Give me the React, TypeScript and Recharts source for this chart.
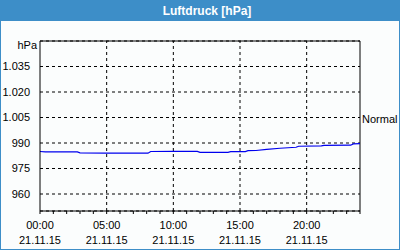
import { LineChart, Line, XAxis, YAxis, CartesianGrid, ReferenceLine } from 'recharts';

// hours since 00:00 on 21.11.15
const hours = [0, 0.4, 2.8, 3.0, 5, 7, 8.1, 8.3, 10, 11.8, 12.0, 14.1, 14.3, 15.4, 15.6, 16.2, 17, 18, 19.2, 19.4, 21.1, 21.3, 23.3, 23.5, 24];
const pressure = [985.0, 984.8, 984.8, 984.2, 984.1, 984.1, 984.0, 985.0, 985.1, 985.1, 984.5, 984.5, 984.9, 984.9, 985.5, 985.6, 986.2, 986.9, 987.5, 988.1, 988.3, 988.6, 988.7, 989.5, 989.6];

const yTicks = [960, 975, 990, 1005, 1020, 1035];
const majorHours = [5, 10, 15, 20];
const hourTicks = Array.from({ length: 25 }, (_, i) => i);
const dateLabel = '21.11.15';
const normalValue = 1005;

const data = hours.map((h, i) => ({ h, p: pressure[i] }));

const blue = '#3d8ec8';
const font = '"Liberation Sans", Arial, sans-serif';

const fmtY = (v: number) => {
  if (v >= 1000) {
    const s = String(v);
    return s.slice(0, s.length - 3) + '.' + s.slice(-3);
  }
  return String(v);
};

const XTick = (props: any) => {
  const { x, y, payload } = props;
  const h = payload.value as number;
  if (h % 5 !== 0) return null;
  const hh = String(h).padStart(2, '0') + ':00';
  return (
    <g>
      <text x={x} y={y + 13} textAnchor="middle" fontSize={11} fontFamily={font} fill="#000">{hh}</text>
      <text x={x} y={y + 28} textAnchor="middle" fontSize={11} fontFamily={font} fill="#000">{dateLabel}</text>
    </g>
  );
};

export default function App() {
  return (
    <div
      style={{
        position: 'absolute',
        left: 0,
        top: 0,
        width: 400,
        height: 250,
        boxSizing: 'border-box',
        border: `1px solid ${blue}`,
        background: '#fbfdfd',
        fontFamily: font,
        overflow: 'hidden',
      }}
    >
      <div
        style={{
          position: 'absolute',
          left: 0,
          top: 0,
          width: 398,
          height: 20,
          background: blue,
          color: '#fff',
          fontWeight: 'bold',
          fontSize: 12,
          lineHeight: '20px',
          textAlign: 'center',
          paddingLeft: 14,
          boxSizing: 'border-box',
        }}
      >
        Luftdruck [hPa]
      </div>
      <div style={{ position: 'absolute', left: 0, top: 38, width: 36, textAlign: 'right', fontSize: 11, color: '#000' }}>
        hPa
      </div>
      <div style={{ position: 'absolute', left: -1, top: -1 }}>
        <LineChart width={400} height={250} data={data} margin={{ top: 41, right: 40, bottom: 0, left: 0 }}>
          <CartesianGrid vertical={false} stroke="#000" strokeDasharray="3 3" />
          <XAxis
            dataKey="h"
            type="number"
            domain={[0, 24]}
            ticks={hourTicks}
            interval={0}
            tickSize={3}
            height={39}
            stroke="#000"
            tick={<XTick />}
          />
          <YAxis
            type="number"
            domain={[950, 1050]}
            ticks={yTicks}
            width={40}
            tickLine={false}
            tickMargin={4}
            stroke="#000"
            tickFormatter={fmtY}
            tick={{ fontSize: 11, fontFamily: font, fill: '#000' }}
          />
          {majorHours.map((h) => (
            <ReferenceLine key={h} x={h} stroke="#000" strokeDasharray="3 3" />
          ))}
          <ReferenceLine y={1050} stroke="#000" />
          <ReferenceLine x={24} stroke="#000" />
          <ReferenceLine
            y={normalValue}
            stroke="#000"
            strokeDasharray="3 3"
            label={{ value: 'Normal', position: 'right', fontSize: 11, fontFamily: font, fill: '#000', dy: 2, dx: -3 }}
          />
          <Line type="linear" dataKey="p" stroke="#0000ee" strokeWidth={1.2} dot={false} isAnimationActive={false} />
        </LineChart>
      </div>
    </div>
  );
}
